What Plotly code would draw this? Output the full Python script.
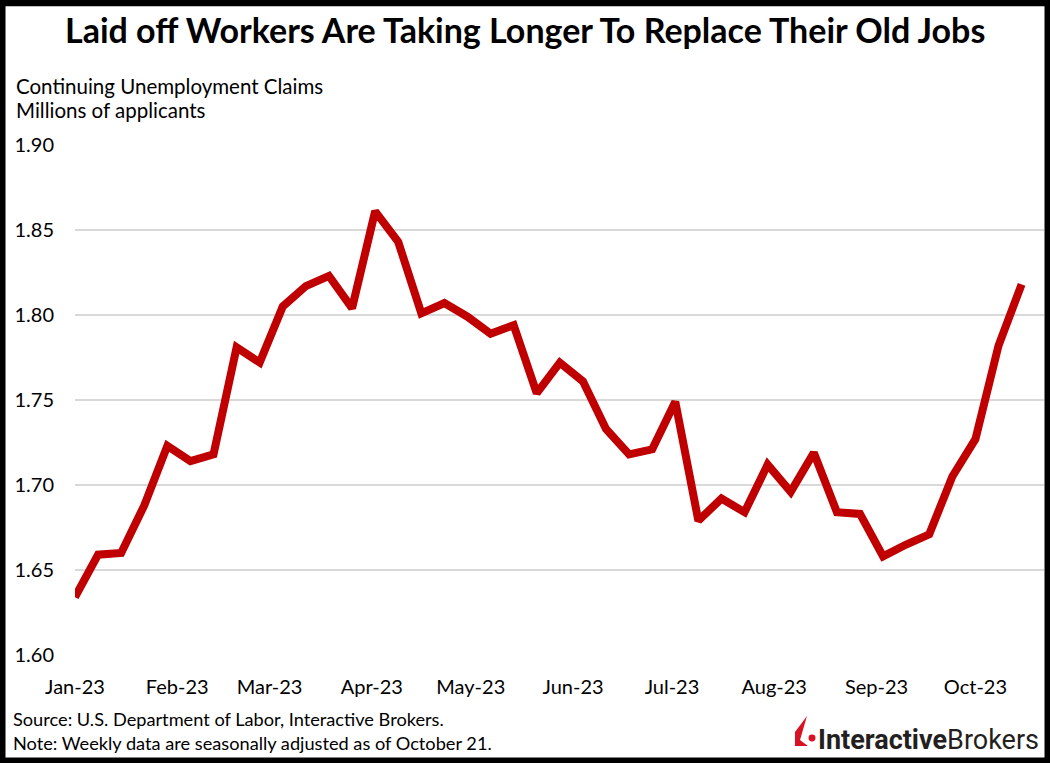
import plotly.graph_objects as go

# weekly continuing claims, week ending Saturday
weeks = [
    "2023-01-07", "2023-01-14", "2023-01-21", "2023-01-28",
    "2023-02-04", "2023-02-11", "2023-02-18", "2023-02-25",
    "2023-03-04", "2023-03-11", "2023-03-18", "2023-03-25",
    "2023-04-01", "2023-04-08", "2023-04-15", "2023-04-22", "2023-04-29",
    "2023-05-06", "2023-05-13", "2023-05-20", "2023-05-27",
    "2023-06-03", "2023-06-10", "2023-06-17", "2023-06-24",
    "2023-07-01", "2023-07-08", "2023-07-15", "2023-07-22", "2023-07-29",
    "2023-08-05", "2023-08-12", "2023-08-19", "2023-08-26",
    "2023-09-02", "2023-09-09", "2023-09-16", "2023-09-23", "2023-09-30",
    "2023-10-07", "2023-10-14", "2023-10-21",
]
claims = [
    1.634, 1.659, 1.660, 1.688,
    1.723, 1.714, 1.718, 1.781,
    1.772, 1.805, 1.817, 1.823,
    1.804, 1.861, 1.843, 1.801, 1.807,
    1.799, 1.789, 1.794, 1.754,
    1.772, 1.761, 1.733, 1.718,
    1.721, 1.749, 1.679, 1.692, 1.684,
    1.712, 1.696, 1.719, 1.684,
    1.683, 1.658, 1.665, 1.671, 1.705,
    1.727, 1.782, 1.818,
]
y_ticks = [1.60, 1.65, 1.70, 1.75, 1.80, 1.85, 1.90]

W, H = 1050, 763
L, R, T, B = 75, 6, 144.5, 108
PW, PH = W - L - R, H - T - B
EDGE = 5.5  # black frame thickness


def px(x):
    return (x - L) / PW


def py(y):
    return (H - B - y) / PH


FONT = "Lato"

fig = go.Figure()
fig.add_trace(go.Scatter(
    x=weeks, y=claims, mode="lines",
    line=dict(color="#c00000", width=8),
    hoverinfo="x+y", showlegend=False,
))

annotations = [
    dict(text="<b>Laid off Workers Are Taking Longer To Replace Their Old Jobs</b>",
         x=px(525), y=py(29), xanchor="center", yanchor="middle",
         font=dict(family=FONT, size=34, color="black")),
    dict(text="Continuing Unemployment Claims", x=px(14), y=py(85),
         xanchor="left", yanchor="middle", font=dict(family=FONT, size=20.5, color="black")),
    dict(text="Millions of applicants", x=px(14), y=py(109),
         xanchor="left", yanchor="middle", font=dict(family=FONT, size=20.5, color="black")),
    dict(text="Source: U.S. Department of Labor, Interactive Brokers.", x=px(11), y=py(719),
         xanchor="left", yanchor="middle", font=dict(family=FONT, size=18.2, color="black")),
    dict(text="Note: Weekly data are seasonally adjusted as of October 21.", x=px(11), y=py(743),
         xanchor="left", yanchor="middle", font=dict(family=FONT, size=18.2, color="black")),
    dict(text="<b>Interactive</b>Brokers", x=px(1041), y=py(740),
         xanchor="right", yanchor="middle",
         font=dict(family="Roboto", size=27, color="#231f20")),
]
for a in annotations:
    a.update(xref="paper", yref="paper", showarrow=False)

# logo mark
icon = [(795, 732), (807, 716), (800, 740), (808, 746), (795, 746)]
icon_path = "M " + " L ".join(f"{px(x)},{py(y)}" for x, y in icon) + " Z"

shapes = [
    # white card on a black paper gives the frame
    dict(type="rect", xref="paper", yref="paper", layer="below",
         x0=px(EDGE), x1=px(W - EDGE), y0=py(EDGE), y1=py(H - EDGE),
         fillcolor="white", line=dict(width=0)),
    dict(type="path", xref="paper", yref="paper", path=icon_path,
         fillcolor="#d81222", line=dict(width=0)),
    dict(type="circle", xref="paper", yref="paper",
         x0=px(808.5), x1=px(815.5), y0=py(734.5), y1=py(741.5),
         fillcolor="#d81222", line=dict(width=0)),
]

fig.update_layout(
    width=W, height=H,
    margin=dict(l=L, r=R, t=T, b=B),
    paper_bgcolor="black", plot_bgcolor="rgba(0,0,0,0)",
    font=dict(family=FONT, color="black"),
    annotations=annotations, shapes=shapes,
    xaxis=dict(
        type="date", range=["2023-01-07", "2023-10-27 19:00"],
        tick0="2023-01-07", dtick="M1", tickformat="%b-%y",
        showgrid=False, zeroline=False, showline=False, ticks="",
        ticklabelstandoff=18, tickfont=dict(family=FONT, size=20, color="black"),
    ),
    yaxis=dict(
        range=[1.60, 1.90], tickvals=y_ticks, tickformat=".2f",
        showgrid=True, gridcolor="#d9d9d9", gridwidth=1.5,
        zeroline=False, showline=False, ticks="",
        ticklabelstandoff=20, tickfont=dict(family=FONT, size=20, color="black"),
    ),
)

# page body has a default 8px margin; drop it so the figure fills the window
fig.write_html("out.html", config={"displayModeBar": False},
               post_script="document.body.style.margin='0';")
